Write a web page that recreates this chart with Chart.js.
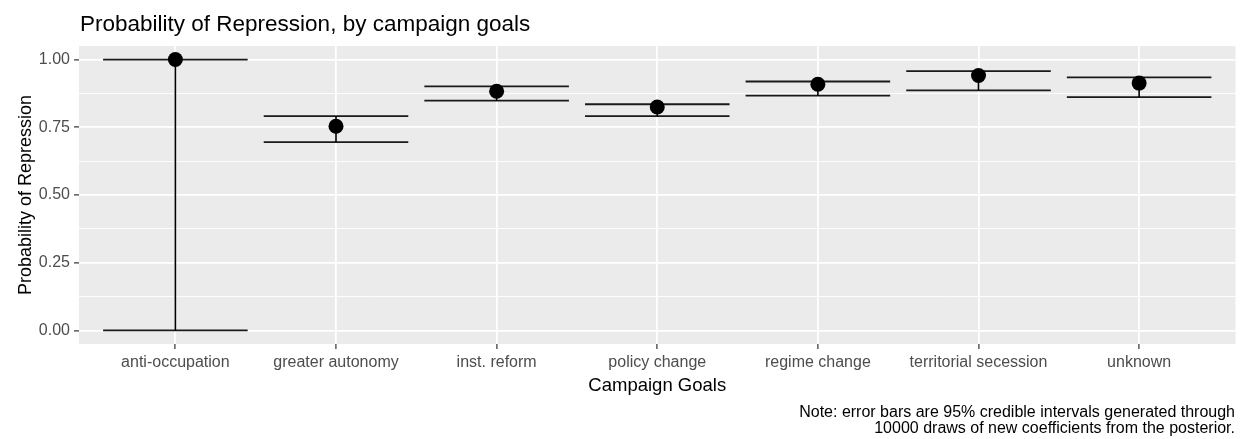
<!DOCTYPE html>
<html lang="en">
<head>
<meta charset="UTF-8">
<title>Probability of Repression, by campaign goals</title>
<script src="https://cdn.jsdelivr.net/npm/chart.js"></script>
<style>
  html, body { margin: 0; padding: 0; background: #ffffff; }
  #wrap { width: 1243px; height: 439px; position: relative; }
</style>
</head>
<body>
<div id="wrap"><canvas id="chart"></canvas></div>
<script>
// data
const goals = ['anti-occupation', 'greater autonomy', 'inst. reform', 'policy change',
               'regime change', 'territorial secession', 'unknown'];
const estimate = [1.000, 0.754, 0.883, 0.825, 0.909, 0.941, 0.913];
const lower    = [0.000, 0.695, 0.848, 0.791, 0.867, 0.886, 0.861];
const upper    = [1.000, 0.791, 0.901, 0.835, 0.919, 0.957, 0.934];
const yTicks   = [0, 0.25, 0.5, 0.75, 1];
const yMinor   = [0.125, 0.375, 0.625, 0.875];

const FONT = "'Liberation Sans', Arial, sans-serif";
const CAP = 0.45; // half width of the error bar caps, in category units

// build the line segments for the error bars (null y breaks the line)
const stems = [];
const caps = [];
goals.forEach((g, i) => {
    stems.push({ x: i, y: lower[i] }, { x: i, y: upper[i] }, { x: i, y: null });
    caps.push({ x: i - CAP, y: upper[i] }, { x: i + CAP, y: upper[i] }, { x: i, y: null });
    caps.push({ x: i - CAP, y: lower[i] }, { x: i + CAP, y: lower[i] }, { x: i, y: null });
});

const isMajor = v => yTicks.some(t => Math.abs(t - v) < 1e-9);

// grey panel behind the grid
const panelBg = {
    id: 'panelBg',
    beforeDraw(chart) {
        const { ctx, chartArea: a } = chart;
        ctx.save();
        ctx.fillStyle = '#EBEBEB';
        ctx.fillRect(a.left, a.top, a.right - a.left, a.bottom - a.top);
        ctx.restore();
    }
};

// title, axis titles and caption, placed like ggplot does
const ggText = {
    id: 'ggText',
    afterDraw(chart) {
        const { ctx, chartArea: a } = chart;
        ctx.save();
        ctx.fillStyle = '#000000';
        ctx.textBaseline = 'alphabetic';

        ctx.font = `22.5px ${FONT}`;
        ctx.textAlign = 'left';
        ctx.fillText('Probability of Repression, by campaign goals', a.left + 1, 31);

        ctx.font = `18.5px ${FONT}`;
        ctx.textAlign = 'center';
        ctx.fillText('Campaign Goals', (a.left + a.right) / 2, 391);

        ctx.save();
        ctx.font = `18px ${FONT}`;
        ctx.translate(31, (a.top + a.bottom) / 2);
        ctx.rotate(-Math.PI / 2);
        ctx.fillText('Probability of Repression', 0, 0);
        ctx.restore();

        ctx.font = `16px ${FONT}`;
        ctx.textAlign = 'right';
        ctx.fillText('Note: error bars are 95% credible intervals generated through', 1235, 417);
        ctx.fillText('10000 draws of new coefficients from the posterior.', 1235, 432.5);
        ctx.restore();
    }
};

new Chart(document.getElementById('chart'), {
    type: 'scatter',
    data: {
        datasets: [
            {
                type: 'scatter',
                data: goals.map((g, i) => ({ x: i, y: estimate[i] })),
                pointRadius: 7.5,
                pointBackgroundColor: '#000000',
                pointBorderWidth: 0,
                order: 0
            },
            {
                type: 'line',
                data: stems,
                borderColor: '#000000',
                borderWidth: 1.6,
                pointRadius: 0,
                spanGaps: false,
                order: 1
            },
            {
                type: 'line',
                data: caps,
                borderColor: '#1a1a1a',
                borderWidth: 1.8,
                pointRadius: 0,
                spanGaps: false,
                order: 2
            }
        ]
    },
    options: {
        responsive: true,
        maintainAspectRatio: false,
        animation: false,
        layout: { padding: { top: 46, right: 3, bottom: 0, left: 0 } },
        plugins: {
            legend: { display: false },
            tooltip: { enabled: false },
            title: { display: false }
        },
        scales: {
            x: {
                type: 'linear',
                min: -0.6,
                max: 6.6,
                afterBuildTicks: axis => { axis.ticks = goals.map((g, i) => ({ value: i })); },
                afterFit: scale => { scale.height = 95; },
                border: { display: false },
                grid: {
                    color: '#ffffff',
                    lineWidth: 1.8,
                    tickColor: '#333333',
                    tickWidth: 1.2,
                    tickLength: 5
                },
                ticks: {
                    autoSkip: false,
                    maxRotation: 0,
                    minRotation: 0,
                    padding: 4,
                    color: '#4D4D4D',
                    font: { family: FONT, size: 16 },
                    callback: v => goals[v]
                }
            },
            y: {
                type: 'linear',
                min: -0.05,
                max: 1.05,
                afterBuildTicks: axis => {
                    axis.ticks = yTicks.concat(yMinor).sort((p, q) => p - q).map(v => ({ value: v }));
                },
                afterFit: scale => { scale.width = 79; },
                border: { display: false },
                grid: {
                    color: '#ffffff',
                    lineWidth: ctx => isMajor(ctx.tick.value) ? 1.8 : 0.9,
                    tickColor: ctx => isMajor(ctx.tick.value) ? '#333333' : 'rgba(0,0,0,0)',
                    tickWidth: 1.2,
                    tickLength: 5
                },
                ticks: {
                    autoSkip: false,
                    padding: 4,
                    color: '#4D4D4D',
                    font: { family: FONT, size: 16 },
                    callback: v => isMajor(v) ? v.toFixed(2) : ''
                }
            }
        }
    },
    plugins: [panelBg, ggText]
});
</script>
</body>
</html>
